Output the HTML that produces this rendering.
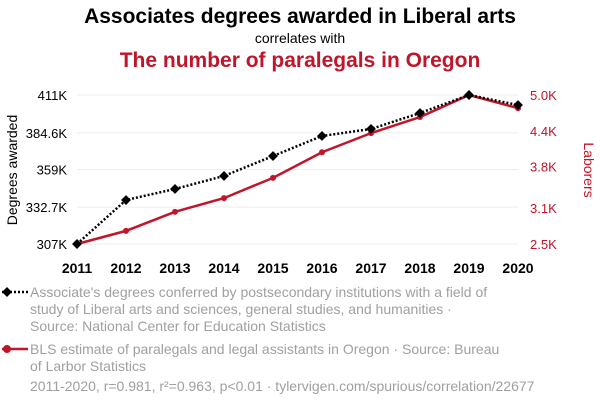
<!DOCTYPE html>
<html><head><meta charset="utf-8">
<style>
body{margin:0;background:#fff;font-family:"Liberation Sans",sans-serif;}
svg text{font-family:"Liberation Sans",sans-serif;}
</style></head>
<body>
<svg id="c" width="600" height="408" xmlns="http://www.w3.org/2000/svg">
<text x="300" y="23" text-anchor="middle" font-size="21" font-weight="bold" fill="#000">Associates degrees awarded in Liberal arts</text>
<text x="300" y="43" text-anchor="middle" font-size="14" fill="#000">correlates with</text>
<text x="300" y="67" text-anchor="middle" font-size="21" font-weight="bold" fill="#c0152a">The number of paralegals in Oregon</text>
<g id="grid"></g>
<g id="axes"></g>
<g id="series"></g>
<text transform="translate(17,170) rotate(-90)" text-anchor="middle" font-size="14" fill="#000">Degrees awarded</text>
<text transform="translate(584,170) rotate(90)" text-anchor="middle" font-size="14" fill="#c0152a">Laborers</text>
<g>
<line x1="2" y1="292" x2="28" y2="292" stroke="#000" stroke-width="2.5" stroke-dasharray="2,2"/>
<rect x="3.5" y="288.5" width="7" height="7" transform="rotate(45 7 292)" fill="#000"/>
<text font-size="14" fill="#a0a0a0"><tspan x="30" y="297">Associate's degrees conferred by postsecondary institutions with a field of</tspan><tspan x="30" y="314">study of Liberal arts and sciences, general studies, and humanities ·</tspan><tspan x="30" y="331">Source: National Center for Education Statistics</tspan></text>
</g>
<g>
<line x1="2" y1="349" x2="28" y2="349" stroke="#c0152a" stroke-width="2.5"/>
<circle cx="7" cy="349" r="4" fill="#c0152a"/>
<text font-size="14" fill="#a0a0a0"><tspan x="30" y="354">BLS estimate of paralegals and legal assistants in Oregon · Source: Bureau</tspan><tspan x="30" y="371">of Larbor Statistics</tspan></text>
</g>
<text x="30" y="391" font-size="14" fill="#a0a0a0">2011-2020, r=0.981, r²=0.963, p&lt;0.01 · tylervigen.com/spurious/correlation/22677</text>
</svg>
<script>
const years=[2011,2012,2013,2014,2015,2016,2017,2018,2019,2020];
const degrees=[307,337.7,345.4,354.5,368.4,382.4,387.3,398.4,411,404];
const laborers=[2.5,2.72,3.04,3.27,3.61,4.04,4.36,4.63,5.0,4.78];
const leftTicks=[307,332.7,359,384.6,411];
const leftLabels=["307K","332.7K","359K","384.6K","411K"];
const rightTicks=[2.5,3.1,3.8,4.4,5.0];
const rightLabels=["2.5K","3.1K","3.8K","4.4K","5.0K"];
const NS="http://www.w3.org/2000/svg";
const X0=77,X1=518,YT=95,YB=244;
const x=v=>X0+(v-2011)/(2020-2011)*(X1-X0);
const yL=v=>YB-(v-307)/(411-307)*(YB-YT);
const yR=v=>YB-(v-2.5)/(5.0-2.5)*(YB-YT);
function mk(t,a,p){const e=document.createElementNS(NS,t);for(const k in a)e.setAttribute(k,a[k]);p.appendChild(e);return e;}
const grid=document.getElementById('grid'),axes=document.getElementById('axes'),ser=document.getElementById('series');
leftTicks.forEach((v,i)=>{
 const g=mk('line',{x1:X0,x2:X1,y1:yL(v),y2:yL(v),stroke:'#eee','stroke-width':1},grid);
 
 
 const t=mk('text',{x:67,y:yL(v)+5,'text-anchor':'end','font-size':13,fill:'#000'},axes);t.textContent=leftLabels[i];
 
 
});
rightTicks.forEach((v,i)=>{
 const t=mk('text',{x:530,y:yR(v)+5,'font-size':13,fill:'#c0152a'},axes);t.textContent=rightLabels[i];
 
 
});
years.forEach(v=>{
 const t=mk('text',{x:x(v),y:273,'text-anchor':'middle','font-size':14,'font-weight':'bold',fill:'#000'},axes);t.textContent=v;
 
 
});
const rl=mk('polyline',{points:years.map((v,i)=>x(v)+','+yR(laborers[i])).join(' '),fill:'none',stroke:'#c0152a','stroke-width':2.5},ser);


laborers.forEach((v,i)=>{const c=mk('circle',{cx:x(years[i]),cy:yR(v),r:3,fill:'#c0152a'},ser);
 
 });
const dl=mk('polyline',{points:years.map((v,i)=>x(v)+','+yL(degrees[i])).join(' '),fill:'none',stroke:'#000','stroke-width':2.5,'stroke-dasharray':'2,2'},ser);


degrees.forEach((v,i)=>{const cx=x(years[i]),cy=yL(v);const r=mk('rect',{x:cx-3.5,y:cy-3.5,width:7,height:7,fill:'#000',transform:`rotate(45 ${cx} ${cy})`},ser);
 
 });
</script>
</body></html>
